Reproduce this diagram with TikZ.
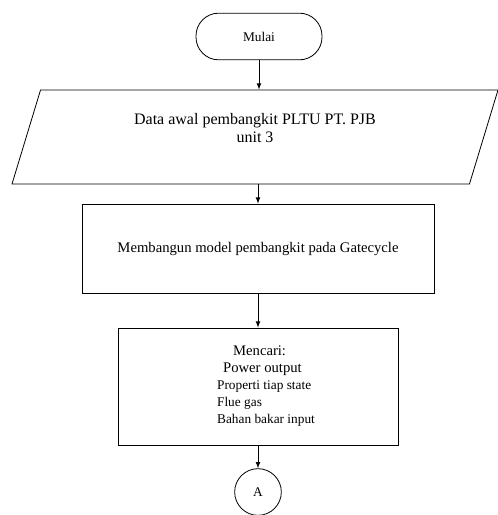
\documentclass[tikz,border=0pt]{standalone}
\usepackage{fontspec}
\setmainfont{Liberation Serif}
\usetikzlibrary{shapes,arrows}
\tikzstyle{terminal} = [rectangle, rounded corners=17pt, minimum width=94.5pt, minimum height=35pt, text centered, draw=black]
\tikzstyle{io} = [trapezium, trapezium left angle=63, trapezium right angle=117, trapezium stretches body, minimum width=364.5pt, minimum height=70.5pt, align=center, draw=black]
\tikzstyle{process} = [rectangle, draw=black]
\tikzstyle{connector} = [circle, minimum size=35pt, inner sep=0pt, draw=black]
\tikzstyle{arrow} = [->,>=latex]

\begin{document}
\begin{tikzpicture}[x=0.75pt,y=-0.75pt,line width=0.6pt]
\useasboundingbox (0,0) rectangle (498,515);
\node[terminal, font=\fontsize{10}{12}\selectfont] (start) at (259,36.5) {Mulai};
\node[io, font=\fontsize{12}{13.5}\selectfont] (data) at (255,137)
    {Data awal pembangkit PLTU PT. PJB \\ unit 3 \\ \mbox{}};
\node[process, minimum width=264pt, minimum height=66.75pt,
    font=\fontsize{11}{13}\selectfont] (model) at (258,248.5)
    {Membangun model pembangkit pada Gatecycle};
\node[process, minimum width=210pt, minimum height=87.75pt, align=left,
    font=\fontsize{10}{12.75}\selectfont] (search) at (258,386.5)
    {\hspace*{24pt}\fontsize{11}{12.75}\selectfont Mencari: \\
     \hspace*{16.5pt}\fontsize{11}{12.75}\selectfont Power output \\
     \hspace*{12pt}\fontsize{10}{12.75}\selectfont Properti tiap state \\
     \hspace*{12pt}\fontsize{10}{12.75}\selectfont Flue gas \\
     \hspace*{12pt}\fontsize{10}{12.75}\selectfont Bahan bakar input};
\node[connector, font=\fontsize{10}{12}\selectfont] (A) at (258,492) {A};
\draw[arrow] (start.south) -- (start.south |- data.north);
\draw[arrow] (model.north |- data.south) -- (model.north);
\draw[arrow] (model.south) -- (search.north);
\draw[arrow] (search.south) -- (A.north);
\end{tikzpicture}
\end{document}
